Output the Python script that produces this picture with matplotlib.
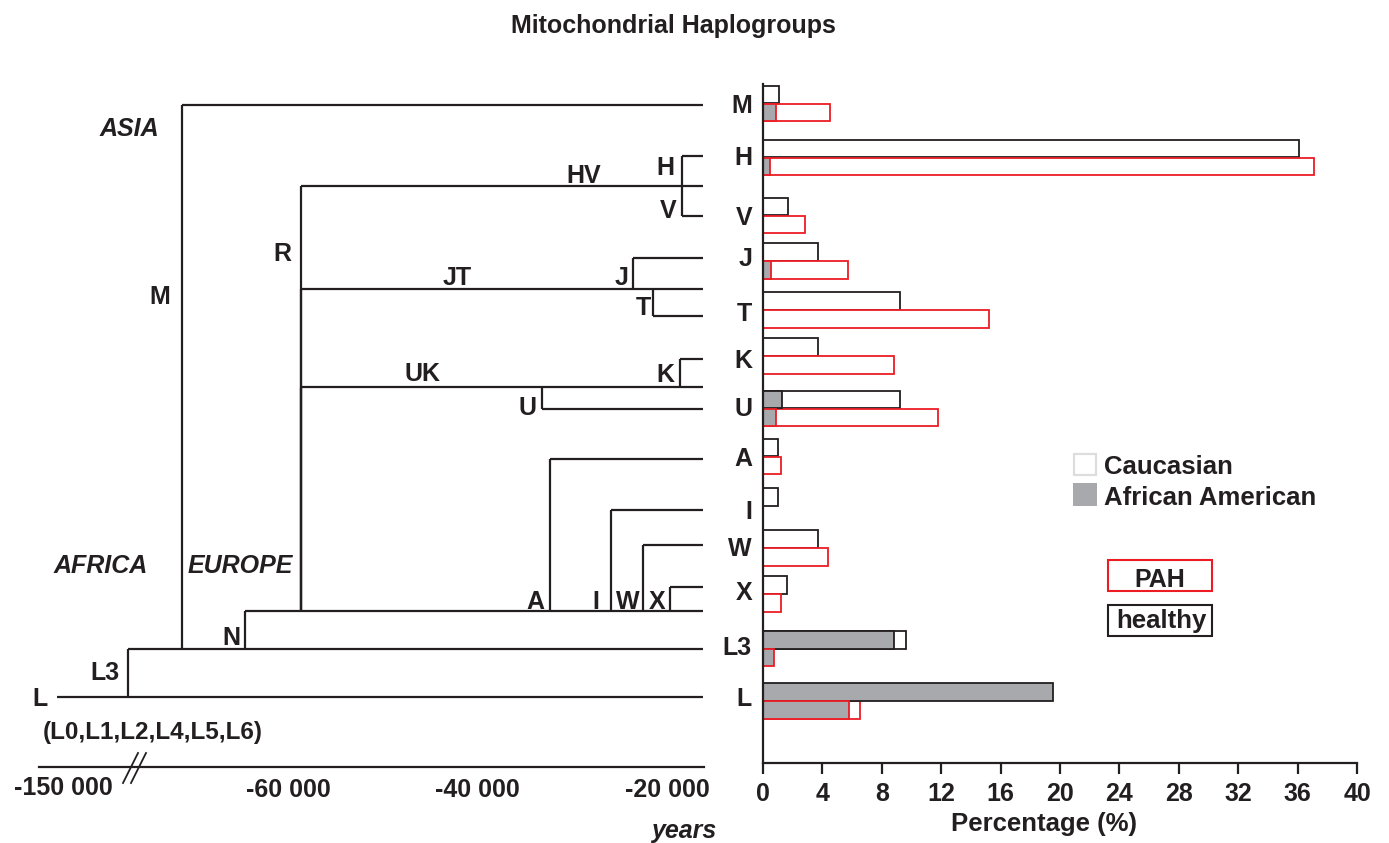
import matplotlib
matplotlib.use('Agg')
import matplotlib.pyplot as plt
from matplotlib.patches import Rectangle

# haplogroup frequencies (%)
haplogroups = ['M', 'H', 'V', 'J', 'T', 'K', 'U', 'A', 'I', 'W', 'X', 'L3', 'L']
healthy_caucasian = [1.1, 36.1, 1.7, 3.7, 9.2, 3.7, 9.2, 1.0, 1.0, 3.7, 1.6, 9.6, 0.0]
healthy_african = [0.0, 0.0, 0.0, 0.0, 0.0, 0.0, 1.3, 0.0, 0.0, 0.0, 0.0, 8.8, 19.5]
pah_caucasian = [4.5, 37.1, 2.8, 5.7, 15.2, 8.8, 11.8, 1.2, 0.0, 4.4, 1.2, 0.0, 6.5]
pah_african = [0.85, 0.5, 0.0, 0.55, 0.0, 0.0, 0.9, 0.0, 0.0, 0.0, 0.0, 0.75, 5.8]

# phylogeny: lineage, parent, split time in years (drawn scale)
lineages = ['L', 'L3', 'M', 'N', 'HV', 'JT', 'UK', 'A', 'I', 'W', 'X', 'H', 'V', 'J', 'T', 'K', 'U']
parents = [None, 'L', 'L3', 'L3', 'N', 'N', 'N', 'N', 'N', 'N', 'N', 'HV', 'HV', 'JT', 'JT', 'UK', 'UK']
split_years = [-84400, -76900, -71200, -64500, -58600, -58600, -58600, -32300, -25900,
               -22500, -19700, -18400, -18400, -23600, -21500, -18600, -33200]
tip_year = -16200
year_ticks = [-60000, -40000, -20000]
year_labels = ['-60 000', '-40 000', '-20 000']
pct_ticks = list(range(0, 41, 4))

# layout (pixel rows of the original figure)
W, H = 1389, 843
lineage_row = {'L': 697, 'L3': 649, 'M': 105, 'N': 611, 'HV': 186, 'JT': 289, 'UK': 387,
               'A': 459, 'I': 510, 'W': 545, 'X': 587, 'H': 156, 'V': 216, 'J': 258,
               'T': 316, 'K': 359, 'U': 409}
bar_row = [103.5, 157.5, 215.5, 261, 310, 356, 408.5, 456.5, 505.7, 548, 594, 648.5, 701]
label_row = [104, 156, 216, 257, 312, 359, 407, 457, 510, 547, 591, 646, 697]
bar_h = 17.7

BLACK = '#231f20'
RED = '#ed1c24'
GRAY = '#a7a9ac'

plt.rcParams['font.family'] = ['Liberation Sans', 'DejaVu Sans']
plt.rcParams['font.weight'] = 'bold'


def frac(l, t, r, b):
    return [l / W, 1 - b / H, (r - l) / W, (b - t) / H]


def px_to_year(x):
    return (x - 856.5) / 0.009475


fig = plt.figure(figsize=(W / 100, H / 100), dpi=100)

# --- tree ---
ax_t = fig.add_axes(frac(39, 60, 704, 767))
ax_t.set_xlim(px_to_year(39), px_to_year(704))
ax_t.set_ylim(767, 60)
for name, par, yr in zip(lineages, parents, split_years):
    y = lineage_row[name]
    ax_t.plot([yr, tip_year], [y, y], color=BLACK, lw=1.6, solid_capstyle='butt')
    if par is not None:
        ax_t.plot([yr, yr], [y, lineage_row[par]], color=BLACK, lw=1.6, solid_capstyle='butt')
for s in ['top', 'right', 'left']:
    ax_t.spines[s].set_visible(False)
ax_t.spines['bottom'].set_linewidth(1.6)
ax_t.spines['bottom'].set_color(BLACK)
ax_t.set_yticks([])
ax_t.set_xticks(year_ticks, year_labels)
ax_t.tick_params(axis='x', length=0, pad=8, labelsize=18, labelcolor=BLACK)
ax_t.patch.set_visible(False)

# --- bars ---
ax_b = fig.add_axes(frac(763, 84, 1357, 763))
ax_b.set_xlim(0, 40)
ax_b.set_ylim(763, 84)
healthy_y = [r - bar_h / 2 for r in bar_row]
pah_y = [r + bar_h / 2 for r in bar_row]
ax_b.barh(healthy_y, healthy_caucasian, height=bar_h, color='white', edgecolor=BLACK, lw=1.3)
ax_b.barh(pah_y, pah_caucasian, height=bar_h, color='white', edgecolor=RED, lw=1.3)
ax_b.barh(healthy_y, healthy_african, height=bar_h, color=GRAY, edgecolor=BLACK, lw=1.3)
ax_b.barh(pah_y, pah_african, height=bar_h, color=GRAY, edgecolor=RED, lw=1.3)
for s in ['top', 'right']:
    ax_b.spines[s].set_visible(False)
for s in ['left', 'bottom']:
    ax_b.spines[s].set_linewidth(1.6)
    ax_b.spines[s].set_color(BLACK)
ax_b.set_yticks([])
ax_b.set_xticks(pct_ticks)
ax_b.tick_params(axis='x', length=8, width=1.6, pad=6, color=BLACK,
                 labelsize=18, labelcolor=BLACK)
ax_b.set_xlabel('Percentage (%)', fontsize=18.5, fontweight='bold', color=BLACK)
ax_b.xaxis.set_label_coords((1044 - 763) / 594, -(812 - 763) / 679)

# --- annotations in pixel space ---
ov = fig.add_axes([0, 0, 1, 1])
ov.set_xlim(0, W)
ov.set_ylim(H, 0)
ov.axis('off')


def txt(x, y, s, ha='center', size=18, style='normal', **kw):
    ov.text(x, y, s, ha=ha, va='baseline', fontsize=size, fontweight='bold',
            fontstyle=style, color=BLACK, **kw)


txt(673, 33, 'Mitochondrial Haplogroups', size=18)
for name, y in zip(haplogroups, label_row):
    txt(752, y + 9, name, ha='right')

tree_labels = [('HV', 584, 174), ('H', 665, 166), ('V', 668, 209), ('J', 622, 276),
               ('T', 643, 306), ('JT', 457, 276), ('R', 282, 252), ('UK', 422, 372),
               ('K', 665, 373), ('U', 527, 406), ('M', 160, 295), ('A', 535, 600),
               ('I', 596, 600), ('W', 628, 600), ('X', 657, 600), ('N', 231, 636),
               ('L3', 105, 671), ('L', 40, 697)]
for s, x, y in tree_labels:
    txt(x, y + 9, s)
txt(153, 739, '(L0,L1,L2,L4,L5,L6)', size=17.5)
txt(63, 795, '-150 000', size=18)
txt(129, 136, 'ASIA', style='italic')
txt(101, 573, 'AFRICA', style='italic')
txt(240, 573, 'EUROPE', style='italic')
txt(684, 838, 'years', style='italic')

# axis break marks
for dx in (0, 8):
    ov.plot([123 + dx, 138 + dx], [783, 753], color=BLACK, lw=1.3)

# legends
ov.add_patch(Rectangle((1074, 454), 22, 21, facecolor='white', edgecolor='#dcdddf', lw=1.6))
ov.add_patch(Rectangle((1073, 483), 24, 23, facecolor=GRAY, edgecolor='none'))
txt(1104, 474, 'Caucasian', ha='left', size=18.5)
txt(1104, 505, 'African American', ha='left', size=18.5)
ov.add_patch(Rectangle((1108, 560), 104, 31, facecolor='white', edgecolor=RED, lw=1.5))
ov.add_patch(Rectangle((1108, 605), 104, 31, facecolor='white', edgecolor=BLACK, lw=1.5))
txt(1160, 587, 'PAH', size=18)
txt(1161, 628, 'healthy', size=18.5)

fig.savefig('out.png', dpi=100)
